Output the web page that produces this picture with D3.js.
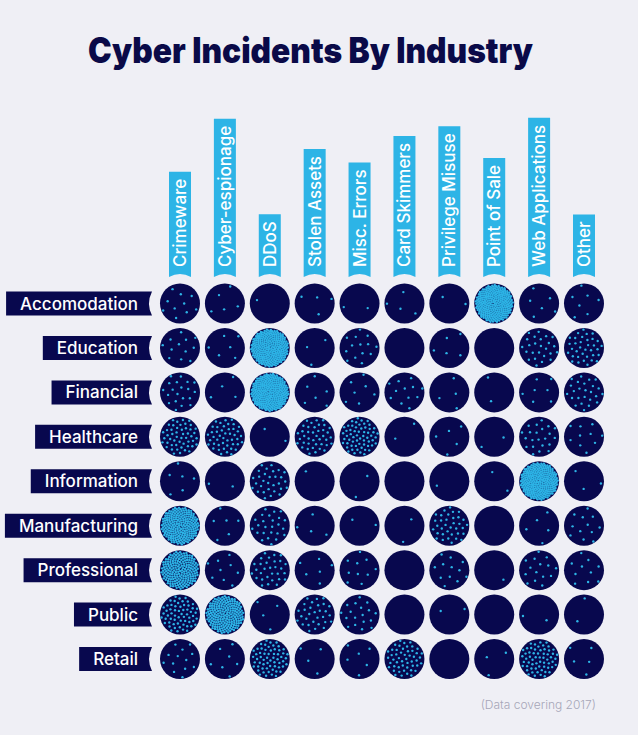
<!DOCTYPE html>
<html>
<head>
<meta charset="utf-8">
<script src="https://cdn.jsdelivr.net/npm/d3@7"></script>
<style>
  html, body { margin: 0; padding: 0; background: #efeff5; }
  svg { display: block; font-family: Inter, "Noto Sans", sans-serif; }
</style>
</head>
<body>
<div id="chart"></div>
<script>
// Industries (rows) and incident patterns (columns)
const industries = ['Accomodation', 'Education', 'Financial', 'Healthcare', 'Information',
    'Manufacturing', 'Professional', 'Public', 'Retail'];
const patterns = ['Crimeware', 'Cyber-espionage', 'DDoS', 'Stolen Assets', 'Misc. Errors',
    'Card Skimmers', 'Privilege Misuse', 'Point of Sale', 'Web Applications', 'Other'];

// Incident counts per industry, one value per pattern (estimated from dot counts)
const accomodation  = [10, 5, 1, 4, 2, 4, 2, 290, 6, 7];
const education     = [12, 6, 290, 3, 14, 0, 5, 0, 25, 35];
const financial     = [20, 4, 300, 6, 7, 12, 4, 2, 7, 25];
const healthcare    = [50, 45, 2, 40, 60, 2, 5, 2, 22, 10];
const information   = [6, 2, 30, 1, 2, 0, 1, 2, 290, 3];
const manufacturing = [230, 6, 25, 4, 2, 2, 35, 0, 5, 12];
const professional  = [200, 9, 30, 6, 10, 0, 12, 1, 15, 10];
const publicSector  = [60, 210, 4, 30, 18, 0, 2, 0, 2, 2];
const retail        = [13, 7, 60, 4, 6, 50, 0, 3, 60, 5];

const counts = [accomodation, education, financial, healthcare, information,
    manufacturing, professional, publicSector, retail];

const navy = '#08084e';
const cyan = '#2db4e6';

class DotGrid {
    constructor(_config) {
        this.config = {
            parentElement: _config.parentElement,
            width: 638,
            height: 735,
            radius: 20,
            dotRadius: 1.2
        };
        this.initVis();
    }

    initVis() {
        let vis = this;

        vis.svg = d3.select(vis.config.parentElement).append('svg')
            .attr('width', vis.config.width)
            .attr('height', vis.config.height);

        vis.svg.append('rect')
            .attr('width', vis.config.width)
            .attr('height', vis.config.height)
            .attr('fill', '#efeff5');

        // point scales for the grid of circles
        vis.xScale = d3.scalePoint().domain(patterns).range([180, 584]);
        vis.yScale = d3.scalePoint().domain(industries).range([303.5, 659]);

        vis.svg.append('text')
            .attr('x', 88)
            .attr('y', 63)
            .attr('textLength', 445)
            .attr('lengthAdjust', 'spacingAndGlyphs')
            .attr('fill', '#0a0a48')
            .style('font-size', '35px')
            .style('font-weight', 900)
            .text('Cyber Incidents By Industry');

        vis.svg.append('text')
            .attr('x', 596)
            .attr('y', 709)
            .attr('text-anchor', 'end')
            .attr('fill', '#a6a6b8')
            .style('font-size', '12px')
            .style('font-weight', 300)
            .text('(Data covering 2017)');

        vis.renderVis();
    }

    renderVis() {
        let vis = this;
        const r = vis.config.radius;

        // column headers: vertical cyan tabs with a concave bottom
        const barBottom = 277, barW = 22;
        const headers = vis.svg.append('g').selectAll('g')
            .data(patterns)
            .join('g')
            .attr('transform', d => `translate(${vis.xScale(d)},0)`);

        headers.each(function (d) {
            const g = d3.select(this);
            const txt = g.append('text')
                .attr('transform', `translate(6,${barBottom - 10}) rotate(-90)`)
                .attr('fill', '#fff')
                .style('font-size', '17px')
                .style('font-weight', 500)
                .text(d);
            const len = txt.node().getComputedTextLength();
            const top = barBottom - 10 - len - 7;
            g.insert('path', 'text')
                .attr('fill', cyan)
                .attr('d', `M${-barW / 2},${top}H${barW / 2}V${barBottom}` +
                    `Q0,${barBottom - 6} ${-barW / 2},${barBottom}Z`);
        });

        // row labels: navy tabs with a concave right end
        const labRight = 152, labH = 24;
        const labels = vis.svg.append('g').selectAll('g')
            .data(industries)
            .join('g')
            .attr('transform', d => `translate(0,${vis.yScale(d)})`);

        labels.each(function (d) {
            const g = d3.select(this);
            const txt = g.append('text')
                .attr('x', 138)
                .attr('y', 6)
                .attr('text-anchor', 'end')
                .attr('fill', '#fff')
                .style('font-size', '17px')
                .style('font-weight', 500)
                .text(d);
            const len = txt.node().getComputedTextLength();
            const left = 138 - len - 14;
            g.insert('path', 'text')
                .attr('fill', navy)
                .attr('d', `M${left},${-labH / 2}H${labRight}Q${labRight - 6},0 ${labRight},${labH / 2}H${left}Z`);
        });

        // one circle per cell, filled with one dot per incident
        const cells = [];
        industries.forEach((ind, i) => {
            patterns.forEach((pat, j) => {
                cells.push({industry: ind, pattern: pat, value: counts[i][j], k: i * patterns.length + j});
            });
        });

        const golden = Math.PI * (3 - Math.sqrt(5));
        const spread = r - 1.3;

        const cellG = vis.svg.append('g').selectAll('g')
            .data(cells)
            .join('g')
            .attr('transform', d => `translate(${vis.xScale(d.pattern)},${vis.yScale(d.industry)})`);

        cellG.append('circle')
            .attr('r', r)
            .attr('fill', navy);

        // sunflower layout spreads the dots evenly inside each circle
        cellG.selectAll('circle.dot')
            .data(d => d3.range(d.value).map(n => {
                const rr = spread * Math.sqrt((n + 0.5) / d.value);
                const a = n * golden + d.k * 1.7;
                return [rr * Math.cos(a), rr * Math.sin(a)];
            }))
            .join('circle')
            .attr('class', 'dot')
            .attr('cx', p => p[0])
            .attr('cy', p => p[1])
            .attr('r', vis.config.dotRadius)
            .attr('fill', cyan);
    }
}

new DotGrid({parentElement: '#chart'});
</script>
</body>
</html>
